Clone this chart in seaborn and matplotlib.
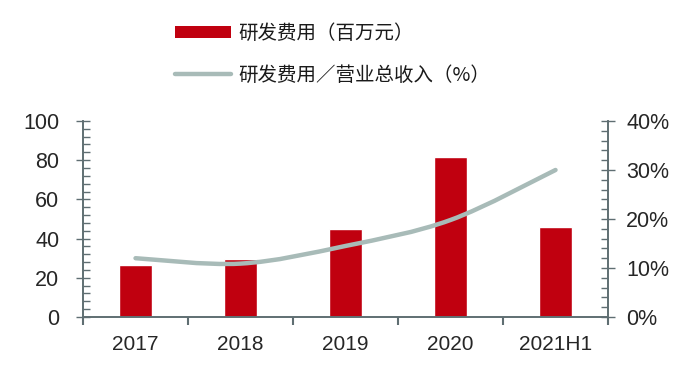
import numpy as np
import pandas as pd
import matplotlib
matplotlib.use('Agg')
import matplotlib.pyplot as plt
from matplotlib.path import Path
from matplotlib.patches import PathPatch, Patch
from matplotlib.lines import Line2D
from matplotlib.ticker import MultipleLocator, FuncFormatter
import seaborn as sns

# data
years = ['2017', '2018', '2019', '2020', '2021H1']
rd_cost = [26.5, 29.5, 45.0, 81.5, 46.0]        # 研发费用（百万元）
rd_ratio = [12.0, 10.9, 14.5, 19.8, 30.0]       # 研发费用/营业总收入（%）

bar_color = '#C0000F'
line_color = '#A8BBB8'
axis_color = '#5F6E72'

sns.set_style('white')
plt.rcParams['font.family'] = ['Liberation Sans', 'Noto Sans CJK SC', 'DejaVu Sans']
plt.rcParams['text.color'] = '#1a1a1a'

fig = plt.figure(figsize=(7, 3.72), dpi=100)
ax = fig.add_axes([0.1186, 0.1478, 0.75, 0.527])

df = pd.DataFrame({'year': years, 'cost': rd_cost})
sns.barplot(data=df, x='year', y='cost', color=bar_color, width=0.31,
            saturation=1, ax=ax)
ax.set_xlim(-0.5, len(years) - 0.5)
ax.set_ylim(0, 100)
ax.set_xlabel('')
ax.set_ylabel('')

ax2 = ax.twinx()
ax2.set_ylim(0, 40)

# smooth curve through the ratio points (Catmull-Rom -> cubic Bezier)
xs = np.arange(len(years), dtype=float)
ys = np.array(rd_ratio)
verts = [(xs[0], ys[0])]
codes = [Path.MOVETO]
for i in range(len(xs) - 1):
    p0 = np.array([xs[max(i - 1, 0)], ys[max(i - 1, 0)]])
    p1 = np.array([xs[i], ys[i]])
    p2 = np.array([xs[i + 1], ys[i + 1]])
    p3 = np.array([xs[min(i + 2, len(xs) - 1)], ys[min(i + 2, len(xs) - 1)]])
    c1 = p1 + (p2 - p0) / 6
    c2 = p2 - (p3 - p1) / 6
    verts += [tuple(c1), tuple(c2), tuple(p2)]
    codes += [Path.CURVE4] * 3
ax2.add_patch(PathPatch(Path(verts, codes), facecolor='none',
                        edgecolor=line_color, lw=3.2, capstyle='round'))

for a in (ax, ax2):
    a.spines['top'].set_visible(False)
    for s in ['left', 'right', 'bottom']:
        a.spines[s].set_color(axis_color)
        a.spines[s].set_linewidth(1.2)

ax.yaxis.set_major_locator(MultipleLocator(20))
ax.yaxis.set_minor_locator(MultipleLocator(4))
ax.tick_params(axis='y', which='major', direction='inout', length=10, width=1,
               color=axis_color, labelsize=15.5, pad=12, left=True)
ax.tick_params(axis='y', which='minor', direction='in', length=5, width=1,
               color=axis_color, left=True)
ax.set_xticks(np.arange(-0.5, len(years), 1), minor=True)
ax.tick_params(axis='x', which='minor', direction='out', length=6, width=1.5,
               color=axis_color, bottom=True)
ax.tick_params(axis='x', which='major', length=0, labelsize=15, pad=13)

ax2.yaxis.set_major_locator(MultipleLocator(10))
ax2.yaxis.set_minor_locator(MultipleLocator(2))
ax2.yaxis.set_major_formatter(FuncFormatter(lambda v, p: f'{v:.0f}%'))
ax2.tick_params(axis='y', which='major', direction='inout', length=10, width=1,
                color=axis_color, labelsize=15.5, pad=8, right=True)
ax2.tick_params(axis='y', which='minor', direction='in', length=5, width=1,
                color=axis_color, right=True)

handles = [Patch(facecolor=bar_color, edgecolor='none'),
           Line2D([0], [0], color=line_color, lw=3.2, solid_capstyle='round')]
labels = ['研发费用（百万元）', '研发费用／营业总收入（%）']
fig.legend(handles, labels, loc='upper left', bbox_to_anchor=(0.225, 0.985),
           frameon=False, prop={'family': ['Noto Sans CJK SC', 'DejaVu Sans'], 'size': 14},
           handlelength=2.9, handleheight=0.6, handletextpad=0.36, labelspacing=1.05)

fig.savefig('out.png', dpi=100)
